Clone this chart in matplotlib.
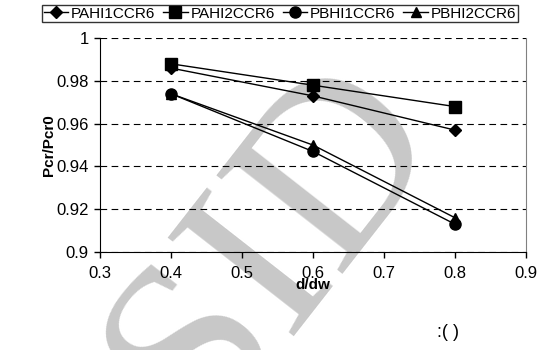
import matplotlib.pyplot as plt

plt.rcParams['font.family'] = ['Liberation Sans', 'DejaVu Sans']

dd = [0.4, 0.6, 0.8]
pahi1 = [0.986, 0.973, 0.957]
pahi2 = [0.988, 0.978, 0.968]
pbhi1 = [0.974, 0.947, 0.913]
pbhi2 = [0.974, 0.950, 0.916]
names = ["PAHI1CCR6", "PAHI2CCR6", "PBHI1CCR6", "PBHI2CCR6"]

fig = plt.figure(figsize=(5.6, 3.5), dpi=100)
ax = fig.add_axes([0.1786, 0.28, 0.7607, 0.611])

# watermark behind everything
fig.text(0.49, 0.30, "SID", family="Liberation Serif", fontsize=175,
         color="#c8c8c8", rotation=52, ha="center", va="center", zorder=-1)
ax.patch.set_alpha(0)

ax.plot(dd, pahi1, "k-D", ms=6.5, lw=1, label=names[0])
ax.plot(dd, pahi2, "k-s", ms=8, lw=1, label=names[1])
ax.plot(dd, pbhi1, "k-o", ms=8, lw=1, label=names[2])
ax.plot(dd, pbhi2, "k-^", ms=7.5, lw=1, label=names[3])

ax.set_xlim(0.3, 0.9)
ax.set_ylim(0.9, 1.0)
ax.set_xticks([0.3, 0.4, 0.5, 0.6, 0.7, 0.8, 0.9])
ax.set_xticklabels(["0.3", "0.4", "0.5", "0.6", "0.7", "0.8", "0.9"])
ax.set_yticks([0.9, 0.92, 0.94, 0.96, 0.98, 1.0])
ax.set_yticklabels(["0.9", "0.92", "0.94", "0.96", "0.98", "1"])
ax.tick_params(labelsize=12, direction="out", length=4, width=1)
ax.tick_params(axis="x", pad=6)
ax.tick_params(axis="y", pad=4)
ax.yaxis.grid(True, ls=(0, (6, 4)), color="k", lw=0.8)
ax.spines["top"].set_visible(False)
ax.spines["right"].set_color("#808080")
ax.set_xlabel("d/dw", fontsize=11, fontweight="bold", labelpad=-2)
ax.set_ylabel("Pcr/Pcr0", fontsize=11, fontweight="bold", labelpad=0)

fig.legend(loc="upper center", bbox_to_anchor=(0.5, 0.985), ncol=4,
           fontsize=11, frameon=True, fancybox=False, edgecolor="k",
           handlelength=1.6, handletextpad=0.2, columnspacing=0.5,
           borderpad=0.1, borderaxespad=0)

fig.text(0.80, 0.049, ":( )", fontsize=13, ha="center", va="center")

fig.savefig("out.png", dpi=100)
